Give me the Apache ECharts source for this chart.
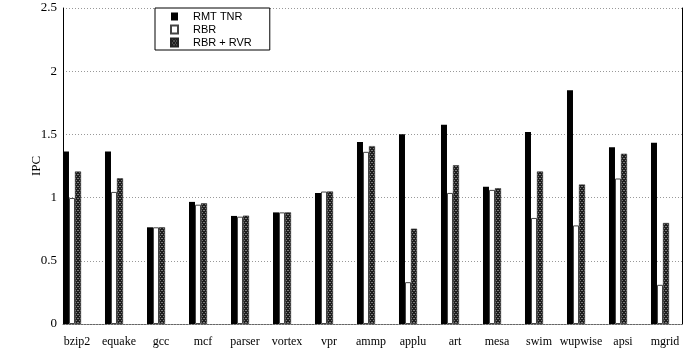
<!DOCTYPE html>
<html>
<head>
<meta charset="utf-8">
<script src="https://cdn.jsdelivr.net/npm/echarts@6/dist/echarts.min.js"></script>
<style>html,body{margin:0;padding:0;background:#fff}#c{width:692px;height:351px}</style>
</head>
<body>
<div id="c"></div>
<script>
var categories = ['bzip2','equake','gcc','mcf','parser','vortex','vpr','ammp','applu','art','mesa','swim','wupwise','apsi','mgrid'];
var rmtTnr   = [1.365,1.365,0.765,0.966,0.855,0.883,1.037,1.439,1.502,1.577,1.085,1.518,1.849,1.399,1.434];
var rbr      = [0.997,1.045,0.765,0.944,0.849,0.883,1.048,1.362,0.331,1.037,1.061,0.839,0.780,1.151,0.310];
var rbrRvr   = [1.206,1.153,0.765,0.955,0.857,0.883,1.048,1.407,0.754,1.256,1.074,1.206,1.103,1.347,0.799];
var yTicks   = [0,0.5,1,1.5,2,2.5];

function pairs(arr){ return arr.map(function(v,i){ return [i, v]; }); }

var cv = document.createElement('canvas');
cv.width = 3; cv.height = 4;
var ctx = cv.getContext('2d');
ctx.fillStyle = '#1e1e1e'; ctx.fillRect(0,0,3,4);
ctx.fillStyle = '#7a7a7a';
ctx.fillRect(1,0,1,1); ctx.fillRect(0,2,1,1); ctx.fillRect(2,2,1,1);
var patt = {image: cv, repeat: 'repeat'};

var serif = '"Liberation Serif", "DejaVu Serif", serif';
var chart = echarts.init(document.getElementById('c'), null, {renderer:'canvas'});
chart.setOption({
  animation: false,
  backgroundColor: '#fff',
  grid: {left: 63, right: 10, top: 8, bottom: 27},
  legend: {
    left: 155, top: 8, orient: 'vertical', icon: 'rect',
    backgroundColor: '#fff', borderColor: '#000', borderWidth: 1,
    padding: [3, 18, 2, 15],
    itemWidth: 7, itemHeight: 8, itemGap: 2,
    textStyle: {fontFamily: '"Liberation Sans", Arial, sans-serif', fontSize: 11, color: '#000', lineHeight: 10, padding: [0,0,0,10]},
    data: ['RMT TNR', 'RBR', 'RBR + RVR']
  },
  xAxis: {
    type: 'value', min: -0.214, max: 14.524,
    splitLine: {show: false},
    axisTick: {show: false},
    axisLine: {show: true, lineStyle: {color: '#666', type: [2,1], width: 1}},
    axisLabel: {
      customValues: categories.map(function(c,i){ return i + 0.12; }),
      formatter: function(v){ return categories[Math.round(v - 0.12)] || ''; },
      fontFamily: serif, fontSize: 12, color: '#000', margin: 12
    }
  },
  yAxis: [{
    type: 'value', min: 0, max: 2.5, interval: 0.5,
    name: 'IPC', nameLocation: 'middle', nameGap: 20, nameMoveOverlap: false,
    nameTextStyle: {fontFamily: serif, fontSize: 13, color: '#000'},
    axisLine: {show: true, onZero: false, lineStyle: {color: '#000', width: 1}},
    axisTick: {show: false},
    axisLabel: {fontFamily: serif, fontSize: 13, color: '#000', margin: 6,
      formatter: function(v){ return String(v); }},
    splitLine: {show: true, lineStyle: {color: '#999', type: [1,2], width: 1}}
  },{
    type: 'value', min: 0, max: 2.5, interval: 0.5, position: 'right',
    axisLine: {show: true, onZero: false, lineStyle: {color: '#000', width: 1}},
    axisTick: {show: false}, axisLabel: {show: false}, splitLine: {show: false}
  }],
  series: [
    {name: 'RMT TNR', type: 'bar', data: pairs(rmtTnr), barWidth: 6, barGap: '0%',
     itemStyle: {color: '#000'}},
    {name: 'RBR', type: 'bar', data: pairs(rbr), barWidth: 6, barGap: '0%',
     itemStyle: {color: '#fff', borderColor: '#444', borderWidth: 1}},
    {name: 'RBR + RVR', type: 'bar', data: pairs(rbrRvr), barWidth: 6, barGap: '0%',
     itemStyle: {color: patt, borderColor: '#222', borderWidth: 0.5}}
  ]
});
</script>
</body>
</html>
